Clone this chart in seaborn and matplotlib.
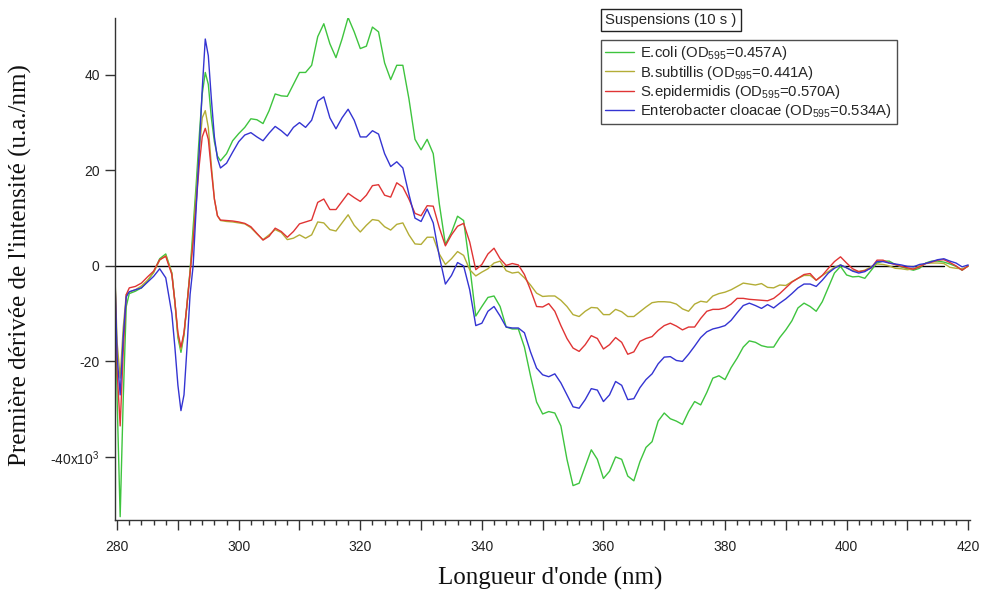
import matplotlib
matplotlib.use("Agg")
import matplotlib.pyplot as plt
from matplotlib.ticker import MultipleLocator, FixedLocator, FuncFormatter
import pandas as pd
import seaborn as sns

# Wavelength grid (nm): finer steps around the sharp features below 297 nm
wavelength = [279.7, 280.0, 280.5, 281.0, 281.5, 282, 283, 284, 285, 286, 287, 288, 289,
              289.5, 290, 290.5, 291, 291.5, 292, 292.5, 293, 293.5, 294, 294.5, 295,
              295.5, 296, 296.5, 297] + list(range(298, 421))

# First derivative of intensity (x10^3 a.u./nm)
ecoli = [-4.5, -28, -52.5, -28, -8.5, -5.8, -5.3, -4.6, -3.2, -1.3, 1.5, 2.5, -1.5,
         -7.5, -15, -18.1, -14.5, -8, -1, 8, 17, 27, 36, 40.5, 38,
         31, 26, 23, 22,
         23.5, 26.2, 27.7, 29.0, 30.8, 30.6, 29.8, 32.5, 36.0, 35.6,   # 298-307
         35.5, 38.0, 40.5, 40.5, 42.0, 48.0, 50.7, 46.5, 43.6, 47.5,    # 308-317
         52.0, 49.0, 45.5, 46.0, 50.0, 49.0, 42.5, 39.0, 42.0, 42.0,    # 318-327
         35.0, 26.5, 24.3, 26.5, 23.5, 13.0, 4.5, 7.0, 10.4, 9.5,       # 328-337
         0.0, -10.5, -8.5, -6.6, -6.3, -8.5, -12.8, -13.2, -13.2, -17.0,  # 338-347
         -23.0, -28.5, -31.0, -30.5, -30.8, -33.5, -40.5, -46.0, -45.5, -42.0,  # 348-357
         -38.5, -40.5, -44.5, -43.0, -40.0, -40.5, -44.0, -45.0, -41.0, -38.0,  # 358-367
         -36.8, -32.5, -30.8, -32.0, -32.5, -33.2, -30.5, -28.4, -29.1, -26.5,  # 368-377
         -23.5, -23.0, -23.8, -21.3, -19.3, -17.0, -15.7, -16.0, -16.7, -17.0,  # 378-387
         -17.0, -15.0, -13.4, -11.5, -8.8, -7.8, -8.5, -9.5, -7.5, -4.5,  # 388-397
         -1.5, -0.1, -1.9, -2.3, -2.2, -2.6, -1.0, 0.6, 1.0, 1.0,          # 398-407
         0.3, -0.2, -0.6, -0.9, -0.5, 0.6, 1.0, 1.0, 0.8, 0.4,             # 408-417
         -0.1, -0.9, 0.0]                                                  # 418-420

bsubtilis = [-4.3, -16, -23.5, -13, -6, -5.5, -5.0, -4.2, -3.0, -1.4, 1.2, 2.2, -1.5,
             -7.5, -14.5, -17.5, -14.2, -8, -1.2, 6, 15, 24, 31, 32.5, 29,
             21, 14, 10.5, 9.5,
             9.3, 9.2, 9.0, 8.8, 8.0, 6.7, 5.5, 6.5, 7.6, 7.0,
             5.5, 5.8, 6.5, 5.8, 6.5, 9.2, 9.0, 7.6, 7.3, 9.0,
             10.7, 8.5, 7.1, 8.5, 9.7, 9.5, 8.2, 7.5, 8.7, 9.0,
             6.5, 4.6, 4.5, 6.0, 6.0, 2.5, 0.3, 1.5, 3.0, 2.2,
             -0.8, -2.1, -1.3, -0.6, 0.6, 1.0, -1.0, -1.5, -1.3, -2.5,
             -4.0, -5.7, -6.4, -6.3, -6.3, -7.2, -8.5, -10.2, -10.6, -9.5,
             -8.7, -8.8, -10.2, -10.2, -9.1, -9.6, -10.6, -10.6, -9.6, -8.6,
             -7.7, -7.5, -7.5, -7.6, -8.0, -9.0, -9.5, -8.0, -7.4, -7.6,
             -6.3, -5.8, -5.5, -5.0, -4.3, -3.6, -3.8, -4.0, -3.7, -4.5,
             -4.6, -4.0, -4.1, -3.3, -2.6, -2.0, -2.0, -3.0, -2.0, -1.2,
             -0.3, 0.2, -0.4, -1.0, -1.2, -0.9, -0.2, 0.4, 0.3, 0.0,
             -0.5, -0.6, -0.8, -0.6, 0.0, 0.5, 0.6, 0.6, 0.5, -0.3,
             -0.5, -0.6, -0.1]

sepidermidis = [-5.0, -22, -33.5, -18, -6, -4.6, -4.3, -3.6, -2.3, -1.1, 1.3, 2.0, -1.8,
                -7.5, -14, -17.0, -14, -8, -1.5, 5, 13, 21, 27, 28.8, 26.5,
                20, 14, 10.5, 9.6,
                9.5, 9.4, 9.2, 8.9, 8.2, 6.8, 5.4, 6.2, 7.9, 7.2,
                6.0, 7.2, 8.8, 9.2, 9.6, 13.3, 14.0, 11.8, 11.8, 13.5,
                15.2, 14.3, 13.5, 14.8, 16.8, 17.0, 14.8, 14.4, 17.4, 16.5,
                14.0, 11.0, 10.5, 12.6, 12.5, 8.0, 4.2, 6.5, 8.3, 8.9,
                5.0, -0.8, 0.3, 2.5, 3.7, 1.5, 0.1, 0.5, 0.2, -1.8,
                -5.0, -8.5, -8.6, -7.9, -9.5, -12.5, -15.2, -17.2, -17.9, -16.5,
                -14.6, -15.2, -17.4, -16.5, -15.0, -16.0, -18.5, -18.0, -15.8, -15.2,
                -14.8, -13.5, -12.5, -12.0, -12.6, -13.4, -12.8, -12.8, -11.0, -9.5,
                -9.1, -9.1, -8.8, -8.0, -6.8, -6.8, -7.0, -7.1, -7.2, -7.3,
                -6.8, -5.8, -4.6, -3.4, -2.6, -1.8, -1.6, -3.0, -2.0, -0.5,
                0.9, 1.9, 0.6, -0.6, -1.2, -1.0, -0.5, 1.2, 1.2, 0.6,
                0.3, -0.1, -0.4, -0.7, -0.2, 0.5, 0.8, 1.2, 1.3, 0.7,
                0.0, -0.9, 0.0]

ecloacae = [-5.2, -19, -27, -15, -6.5, -5.4, -5.0, -4.6, -3.4, -2.2, -0.6, -2.5, -10,
            -17, -25, -30.3, -27, -17, -6, 0, 12, 24, 37, 47.5, 44,
            35, 27, 22.5, 20.5,
            21.5, 23.8, 26.0, 27.4, 27.9, 27.0, 26.2, 27.8, 29.2, 28.3,
            27.2, 29.0, 30.0, 29.0, 30.5, 34.5, 35.4, 31.0, 28.7, 31.0,
            32.8, 30.5, 27.0, 27.0, 28.3, 27.6, 23.5, 20.8, 21.8, 20.5,
            15.0, 10.0, 9.3, 11.9, 9.0, 2.0, -3.8, -2.0, 0.7, 0.0,
            -5.0, -12.5, -12.0, -9.5, -8.5, -10.5, -12.8, -13.0, -13.0, -14.0,
            -18.0, -21.4, -22.8, -23.2, -22.6, -24.5, -27.0, -29.5, -29.8, -28.0,
            -25.7, -26.0, -28.4, -27.0, -24.2, -25.0, -28.0, -27.8, -25.5, -23.8,
            -22.6, -20.5, -19.1, -19.0, -19.8, -20.0, -18.5, -16.8, -15.0, -13.8,
            -13.2, -12.9, -12.5, -11.4, -9.8, -8.3, -7.8, -8.3, -8.9, -8.1,
            -8.8, -7.8, -6.9, -5.8, -4.6, -3.8, -3.8, -4.3, -3.0, -1.5,
            -0.5, 0.2, -0.4, -1.1, -1.5, -1.2, -0.4, 0.9, 0.9, 0.6,
            0.4, 0.2, -0.1, -0.2, 0.3, 0.5, 0.9, 1.3, 1.5, 1.0,
            0.6, -0.2, 0.2]

labels = ["E.coli (OD$_{595}$=0.457A)",
          "B.subtillis (OD$_{595}$=0.441A)",
          "S.epidermidis (OD$_{595}$=0.570A)",
          "Enterobacter cloacae (OD$_{595}$=0.534A)"]
colors = ["#3ec43e", "#b3ad36", "#e03434", "#3434d2"]
series = [ecoli, bsubtilis, sepidermidis, ecloacae]

sns.set_style("ticks")
plt.rcParams["font.family"] = ["Liberation Sans", "DejaVu Sans"]
plt.rcParams["mathtext.fontset"] = "custom"
plt.rcParams["mathtext.rm"] = "Liberation Sans"
plt.rcParams["mathtext.it"] = "Liberation Sans:italic"
plt.rcParams["axes.unicode_minus"] = False

W, H = 982, 593
fig = plt.figure(figsize=(W / 100, H / 100), dpi=100)
x0, x1, y0, y1 = 115, 970, 18, 520
ax = fig.add_axes([x0 / W, (H - y1) / H, (x1 - x0) / W, (y1 - y0) / H])

xmin, xmax = 279.65, 420.3
ax.set_xlim(xmin, xmax)
ax.set_ylim(-53.2, 51.9)

# zero reference line
ax.axhline(0, xmin=0, xmax=(416 - xmin) / (xmax - xmin), color="black", lw=1.0, zorder=1)

for vals, lab, col in zip(series, labels, colors):
    df = pd.DataFrame({"wavelength": wavelength, "deriv": vals})
    sns.lineplot(data=df, x="wavelength", y="deriv", color=col, lw=1.0,
                 label=lab, ax=ax, sort=False, estimator=None, legend=False, zorder=2)
for ln in ax.get_lines():
    ln.set_solid_joinstyle("round")

ax.set_xlabel("")
ax.set_ylabel("")

for s in ["top", "right"]:
    ax.spines[s].set_visible(False)
for s in ["left", "bottom"]:
    ax.spines[s].set_color("#333333")
    ax.spines[s].set_linewidth(1.0)

ax.xaxis.set_major_locator(FixedLocator(list(range(280, 421, 10))))
ax.xaxis.set_minor_locator(MultipleLocator(2))
ax.xaxis.set_major_formatter(FuncFormatter(lambda v, p: f"{int(round(v))}" if int(round(v)) % 20 == 0 else ""))
ax.yaxis.set_major_locator(FixedLocator([-40, -20, 0, 20, 40]))
ax.yaxis.set_minor_locator(FixedLocator([]))
ax.yaxis.set_major_formatter(FuncFormatter(lambda v, p: "-40x10$^{3}$" if round(v) == -40 else f"{int(round(v))}"))

ax.tick_params(axis="x", which="major", direction="out", length=7.5, width=1, color="#333333",
               labelsize=10, labelcolor="#222222", pad=7, bottom=True)
ax.tick_params(axis="x", which="minor", direction="out", length=3.6, width=1, color="#333333",
               bottom=True)
ax.tick_params(axis="y", which="major", direction="out", length=7, width=1, color="#333333",
               labelsize=10, labelcolor="#222222", pad=4, left=True)
for t in ax.xaxis.get_major_ticks():
    if int(round(t.get_loc())) % 20 != 0:
        t.tick1line.set_markersize(5)

fig.text(20 / W, 1 - 265 / H, "Première dérivée de l'intensité (u.a./nm)", rotation=90,
         ha="center", va="center", fontsize=18, family="Liberation Serif", color="#111111")
fig.text(550 / W, 1 - 578 / H, "Longueur d'onde (nm)", ha="center", va="center",
         fontsize=18, family="Liberation Serif", color="#111111")

handles, labs = ax.get_legend_handles_labels()
leg = ax.legend(handles, labs, loc="upper left", bbox_to_anchor=(601 / W, 1 - 40 / H),
                bbox_transform=fig.transFigure, borderaxespad=0, fontsize=10.7,
                frameon=True, fancybox=False, edgecolor="#222222", handlelength=1.9,
                handletextpad=0.45, labelspacing=0.08, borderpad=0.3)
leg.get_frame().set_linewidth(1.0)

fig.text(605 / W, 1 - 20 / H, "Suspensions (10 s )", ha="left", va="center", fontsize=10.7,
         bbox=dict(boxstyle="square,pad=0.3", fc="white", ec="#222222", lw=1.0))

fig.savefig("out.png", dpi=100)
